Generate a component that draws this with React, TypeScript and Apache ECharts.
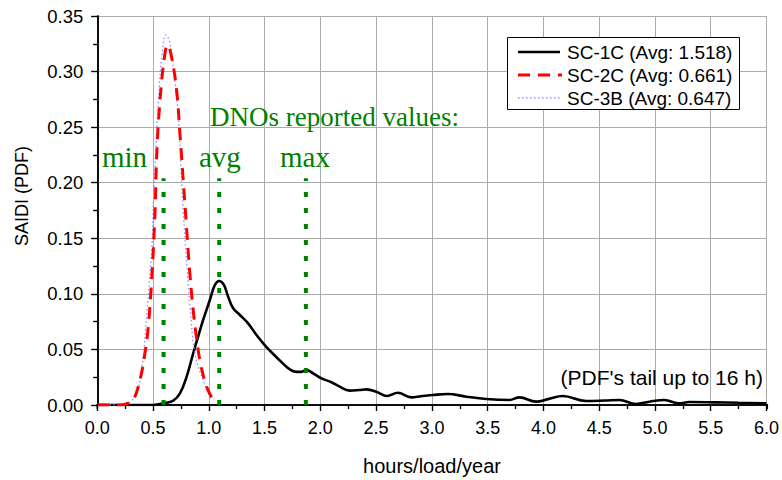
import React, { useEffect, useRef } from "react";
import * as echarts from "echarts";

// SC-1C (black solid)
const sc1cX = [0, 0.5, 0.594, 0.681, 0.741, 0.801, 0.86, 0.904, 0.949, 1.009, 1.054, 1.093, 1.135, 1.173, 1.218, 1.278, 1.352, 1.427, 1.517, 1.607, 1.696, 1.77, 1.83, 1.875, 1.935, 2.01, 2.099, 2.173, 2.263, 2.35, 2.413, 2.502, 2.597, 2.695, 2.815, 2.9, 3.009, 3.143, 3.308, 3.487, 3.695, 3.785, 3.934, 4.05, 4.173, 4.382, 4.55, 4.68, 4.83, 4.95, 5.084, 5.218, 5.307, 5.546, 5.75, 6.0];
const sc1cY = [0, 0, 0.0015, 0.004, 0.0105, 0.0255, 0.0465, 0.0615, 0.0765, 0.0945, 0.108, 0.1116, 0.108, 0.0975, 0.087, 0.081, 0.0735, 0.063, 0.052, 0.043, 0.0345, 0.03, 0.0298, 0.0315, 0.0285, 0.024, 0.0205, 0.0165, 0.0129, 0.0135, 0.0141, 0.012, 0.0081, 0.011, 0.0069, 0.0078, 0.009, 0.0099, 0.0075, 0.0054, 0.0045, 0.0069, 0.003, 0.0055, 0.0081, 0.0036, 0.004, 0.0045, 0.0009, 0.003, 0.0045, 0.0015, 0.0027, 0.0024, 0.002, 0.0015];

// SC-2C (red dashed)
const sc2cX = [0, 0.1, 0.2, 0.26, 0.322, 0.382, 0.427, 0.457, 0.487, 0.517, 0.532, 0.562, 0.606, 0.63, 0.666, 0.711, 0.741, 0.772, 0.8, 0.83, 0.86, 0.89, 0.926, 0.98, 1.03];
const sc2cY = [0, 0, 0, 0.001, 0.0045, 0.0225, 0.0465, 0.0705, 0.1125, 0.1725, 0.223, 0.274, 0.316, 0.324, 0.313, 0.283, 0.244, 0.2, 0.16, 0.118, 0.085, 0.06, 0.037, 0.0165, 0.006];

// SC-3B (blue dotted)
const sc3bX = [0, 0.1, 0.2, 0.25, 0.3, 0.354, 0.4, 0.444, 0.489, 0.504, 0.528, 0.548, 0.578, 0.617, 0.653, 0.698, 0.727, 0.757, 0.772, 0.802, 0.832, 0.877, 0.951, 1.026];
const sc3bY = [0, 0, 0, 0.0005, 0.003, 0.0105, 0.034, 0.082, 0.142, 0.185, 0.235, 0.274, 0.313, 0.333, 0.325, 0.289, 0.259, 0.199, 0.172, 0.127, 0.088, 0.0457, 0.0217, 0.005];

// DNOs reported values (min, avg, max)
const dnoNames = ["min", "avg", "max"];
const dnoValues = [0.594, 1.093, 1.87];
const dnoLineTop = 0.204;

const legendNames = ["SC-1C (Avg: 1.518)", "SC-2C (Avg: 0.661)", "SC-3B (Avg: 0.647)"];
const xTitle = "hours/load/year";
const yTitle = "SAIDI (PDF)";
const annotTitle = "DNOs reported values:";
const tailNote = "(PDF's tail up to 16 h)";

const zip = (xs: number[], ys: number[]) => xs.map((x, i) => [x, ys[i]]);

const SANS = "'Liberation Sans', Arial, sans-serif";
const SERIF = "'Liberation Serif', 'Times New Roman', serif";
const GREEN = "#008000";
const GRID_GRAY = "#ababab";

export default function App() {
  const ref = useRef<HTMLDivElement>(null);
  useEffect(() => {
    if (!ref.current) return;
    const chart = echarts.init(ref.current, undefined, { renderer: "svg" });
    const baseX = {
      type: "value" as const,
      min: 0,
      max: 6,
      interval: 0.5,
    };
    const baseY = {
      type: "value" as const,
      min: 0,
      max: 0.35,
      interval: 0.05,
    };
    const dnoSeries = dnoValues.map((v) => ({
      type: "line",
      xAxisIndex: 0,
      yAxisIndex: 0,
      data: [[v, 0], [v, dnoLineTop]],
      showSymbol: false,
      silent: true,
      z: 10,
      lineStyle: { color: GREEN, width: 4, type: [5, 11], cap: "butt" },
    }));
    chart.setOption({
      animation: false,
      backgroundColor: "#ffffff",
      grid: { left: 97.3, right: 14.7, top: 16, bottom: 75 },
      xAxis: [
        {
          ...baseX,
          position: "bottom",
          offset: 3,
          axisLine: { show: true, lineStyle: { color: "#000", width: 1.5 } },
          axisTick: { show: true, inside: false, length: 6, lineStyle: { color: "#000", width: 1.2 } },
          minorTick: { show: true, splitNumber: 2, length: 4, lineStyle: { color: "#000", width: 1.2 } },
          splitLine: { show: true, lineStyle: { color: GRID_GRAY, width: 1 } },
          axisLabel: {
            fontFamily: SANS,
            fontSize: 18,
            color: "#000",
            margin: 11,
            formatter: (v: number) => v.toFixed(1),
          },
        },
        {
          ...baseX,
          position: "top",
          axisLine: { show: true, lineStyle: { color: "#000", width: 1.5 } },
          axisTick: { show: true, inside: true, length: 6, lineStyle: { color: "#000", width: 1.2 } },
          minorTick: { show: true, splitNumber: 2, length: 4, lineStyle: { color: "#000", width: 1.2 } },
          splitLine: { show: false },
          axisLabel: { show: false },
        },
      ],
      yAxis: [
        {
          ...baseY,
          position: "left",
          axisLine: { show: true, lineStyle: { color: "#000", width: 1.5 } },
          axisTick: { show: true, inside: false, length: 6, lineStyle: { color: "#000", width: 1.2 } },
          minorTick: { show: true, splitNumber: 2, length: 4, lineStyle: { color: "#000", width: 1.2 } },
          splitLine: { show: true, lineStyle: { color: GRID_GRAY, width: 1 } },
          axisLabel: {
            fontFamily: SANS,
            fontSize: 18.5,
            color: "#000",
            margin: 14,
            formatter: (v: number) => v.toFixed(2),
          },
        },
        {
          ...baseY,
          position: "right",
          axisLine: { show: true, lineStyle: { color: "#000", width: 1.5 } },
          axisTick: { show: true, inside: true, length: 6, lineStyle: { color: "#000", width: 1.2 } },
          minorTick: { show: true, splitNumber: 2, length: 4, lineStyle: { color: "#000", width: 1.2 } },
          splitLine: { show: false },
          axisLabel: { show: false },
        },
      ],
      series: [
        {
          name: legendNames[0],
          type: "line",
          data: zip(sc1cX, sc1cY),
          smooth: 0.4,
          showSymbol: false,
          z: 3,
          lineStyle: { color: "#000", width: 2.6 },
        },
        {
          name: legendNames[2],
          type: "line",
          data: zip(sc3bX, sc3bY),
          smooth: 0.4,
          showSymbol: false,
          z: 4,
          lineStyle: { color: "#8c8cff", width: 1.3, type: [1.5, 2.5] },
        },
        {
          name: legendNames[1],
          type: "line",
          data: zip(sc2cX, sc2cY),
          smooth: 0.4,
          showSymbol: false,
          z: 5,
          lineStyle: { color: "#ff0000", width: 3, type: [12, 8], cap: "butt" },
        },
        ...dnoSeries,
      ],
      graphic: [
        // axis corner extensions down to the offset x-axis
        { type: "line", shape: { x1: 97.3, y1: 404, x2: 97.3, y2: 409 }, style: { stroke: "#000", lineWidth: 1.5 }, z: 100 },
        { type: "line", shape: { x1: 767.3, y1: 404, x2: 767.3, y2: 409 }, style: { stroke: "#000", lineWidth: 1.5 }, z: 100 },
        // titles
        {
          type: "text",
          x: 432,
          y: 466,
          style: { text: xTitle, font: `20px ${SANS}`, fill: "#000", textAlign: "center", textVerticalAlign: "middle" },
        },
        {
          type: "text",
          x: 22,
          y: 196,
          rotation: Math.PI / 2,
          style: { text: yTitle, font: `18px ${SANS}`, fill: "#000", textAlign: "center", textVerticalAlign: "middle" },
        },
        // green annotation texts
        {
          type: "text",
          x: 210,
          y: 117,
          z: 50,
          style: { text: annotTitle, font: `27px ${SERIF}`, fill: GREEN, textAlign: "left", textVerticalAlign: "middle" },
        },
        ...dnoNames.map((n, i) => ({
          type: "text",
          x: [102, 199, 280][i],
          y: 157,
          z: 50,
          style: { text: n, font: `29px ${SERIF}`, fill: GREEN, textAlign: "left", textVerticalAlign: "middle" },
        })),
        {
          type: "text",
          x: 763,
          y: 377,
          z: 50,
          style: { text: tailNote, font: `21px ${SANS}`, fill: "#000", textAlign: "right", textVerticalAlign: "middle" },
        },
        // legend
        {
          type: "rect",
          z: 60,
          shape: { x: 507.5, y: 37.5, width: 232, height: 72 },
          style: { fill: "#fff", stroke: "#000", lineWidth: 1 },
        },
        { type: "line", z: 61, shape: { x1: 518, y1: 52, x2: 560, y2: 52 }, style: { stroke: "#000", lineWidth: 2.6 } },
        { type: "line", z: 61, shape: { x1: 518, y1: 75, x2: 562, y2: 75 }, style: { stroke: "#ff0000", lineWidth: 3, lineDash: [12, 8] } },
        { type: "line", z: 61, shape: { x1: 518, y1: 98, x2: 560, y2: 98 }, style: { stroke: "#8c8cff", lineWidth: 1.3, lineDash: [1.5, 2.5] } },
        ...legendNames.map((n, i) => ({
          type: "text",
          z: 61,
          x: 567,
          y: [52, 75, 98][i],
          style: { text: n, font: `19px ${SANS}`, fill: "#000", textAlign: "left", textVerticalAlign: "middle" },
        })),
      ],
    });
    return () => chart.dispose();
  }, []);
  return <div ref={ref} style={{ position: "fixed", left: 0, top: 0, width: 782, height: 480 }} />;
}
